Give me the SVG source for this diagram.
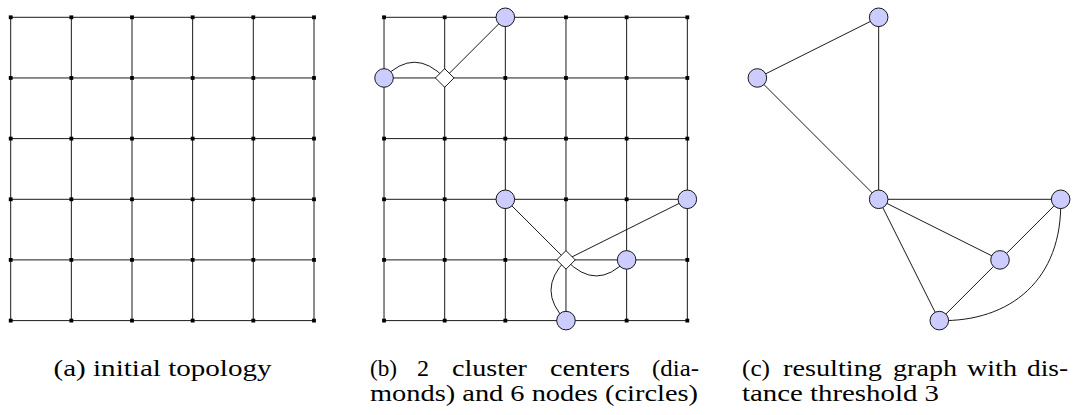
<svg xmlns="http://www.w3.org/2000/svg" width="1078" height="415" viewBox="0 0 1078 415">
<style>
.grid{stroke:#000;stroke-width:0.9;fill:none}
.edge{stroke:#000;stroke-width:0.9;fill:none}
.pt{fill:#000}
.node{fill:#ccccff;stroke:#000;stroke-width:0.9}
.center{fill:#fff;stroke:#000;stroke-width:0.9}
.cap text{font-family:"Liberation Serif","DejaVu Serif","Noto Serif",serif;font-size:23px;fill:#000}
</style>
<defs>
<rect id="pt" x="-1.9" y="-1.9" width="3.8" height="3.8"/>
<circle id="c" r="9.3"/>
<path id="d" d="M0,-9.3 L9.3,0 L0,9.3 L-9.3,0 Z"/>
</defs>
<rect width="1078" height="415" fill="#fff"/>

<g id="connectors">
  <g id="grid-a" class="grid">
    <path d="M10.7,17.3H314M10.7,77.96H314M10.7,138.6H314M10.7,199.3H314M10.7,259.9H314M10.7,320.6H314"/>
    <path d="M10.7,17.3V320.6M71.35,17.3V320.6M132,17.3V320.6M192.65,17.3V320.6M253.3,17.3V320.6M314,17.3V320.6"/>
  </g>
  <g id="grid-b" class="grid">
    <path d="M384.03,17.3H687.33M384.03,77.96H687.33M384.03,138.6H687.33M384.03,199.3H687.33M384.03,259.9H687.33M384.03,320.6H687.33"/>
    <path d="M384.03,17.3V320.6M444.68,17.3V320.6M505.33,17.3V320.6M565.98,17.3V320.6M626.63,17.3V320.6M687.33,17.3V320.6"/>
  </g>
  <g id="edges-b" class="edge">
    <path d="M384.03,77.96 Q414.35,46.5 444.68,77.96"/>
    <path d="M444.68,77.96 L505.33,17.3"/>
    <path d="M565.98,259.9 L505.33,199.3"/>
    <path d="M565.98,259.9 L687.33,199.3"/>
    <path d="M565.98,259.9 Q596.3,292 626.63,259.9"/>
    <path d="M565.98,259.9 Q536,290.25 565.98,320.6"/>
  </g>
  <g id="edges-c" class="edge">
    <path d="M878.66,17.3 L757.36,77.96"/>
    <path d="M878.66,17.3 L878.66,199.3"/>
    <path d="M757.36,77.96 L878.66,199.3"/>
    <path d="M878.66,199.3 L1060.66,199.3"/>
    <path d="M878.66,199.3 L1000,259.9"/>
    <path d="M878.66,199.3 L939.3,320.6"/>
    <path d="M1060.66,199.3 L1000,259.9"/>
    <path d="M1000,259.9 L939.3,320.6"/>
    <path d="M939.3,320.6 C1010,322 1063,280 1060.66,199.3"/>
  </g>
</g>

<g id="points-a" class="pt">
  <use href="#pt" x="10.7" y="17.3"/><use href="#pt" x="71.35" y="17.3"/><use href="#pt" x="132" y="17.3"/><use href="#pt" x="192.65" y="17.3"/><use href="#pt" x="253.3" y="17.3"/><use href="#pt" x="314" y="17.3"/>
  <use href="#pt" x="10.7" y="77.96"/><use href="#pt" x="71.35" y="77.96"/><use href="#pt" x="132" y="77.96"/><use href="#pt" x="192.65" y="77.96"/><use href="#pt" x="253.3" y="77.96"/><use href="#pt" x="314" y="77.96"/>
  <use href="#pt" x="10.7" y="138.6"/><use href="#pt" x="71.35" y="138.6"/><use href="#pt" x="132" y="138.6"/><use href="#pt" x="192.65" y="138.6"/><use href="#pt" x="253.3" y="138.6"/><use href="#pt" x="314" y="138.6"/>
  <use href="#pt" x="10.7" y="199.3"/><use href="#pt" x="71.35" y="199.3"/><use href="#pt" x="132" y="199.3"/><use href="#pt" x="192.65" y="199.3"/><use href="#pt" x="253.3" y="199.3"/><use href="#pt" x="314" y="199.3"/>
  <use href="#pt" x="10.7" y="259.9"/><use href="#pt" x="71.35" y="259.9"/><use href="#pt" x="132" y="259.9"/><use href="#pt" x="192.65" y="259.9"/><use href="#pt" x="253.3" y="259.9"/><use href="#pt" x="314" y="259.9"/>
  <use href="#pt" x="10.7" y="320.6"/><use href="#pt" x="71.35" y="320.6"/><use href="#pt" x="132" y="320.6"/><use href="#pt" x="192.65" y="320.6"/><use href="#pt" x="253.3" y="320.6"/><use href="#pt" x="314" y="320.6"/>
</g>

<g id="points-b" class="pt">
  <use href="#pt" x="384.03" y="17.3"/><use href="#pt" x="444.68" y="17.3"/><use href="#pt" x="565.98" y="17.3"/><use href="#pt" x="626.63" y="17.3"/><use href="#pt" x="687.33" y="17.3"/>
  <use href="#pt" x="505.33" y="77.96"/><use href="#pt" x="565.98" y="77.96"/><use href="#pt" x="626.63" y="77.96"/><use href="#pt" x="687.33" y="77.96"/>
  <use href="#pt" x="384.03" y="138.6"/><use href="#pt" x="444.68" y="138.6"/><use href="#pt" x="505.33" y="138.6"/><use href="#pt" x="565.98" y="138.6"/><use href="#pt" x="626.63" y="138.6"/><use href="#pt" x="687.33" y="138.6"/>
  <use href="#pt" x="384.03" y="199.3"/><use href="#pt" x="444.68" y="199.3"/><use href="#pt" x="565.98" y="199.3"/><use href="#pt" x="626.63" y="199.3"/>
  <use href="#pt" x="384.03" y="259.9"/><use href="#pt" x="444.68" y="259.9"/><use href="#pt" x="505.33" y="259.9"/><use href="#pt" x="687.33" y="259.9"/>
  <use href="#pt" x="384.03" y="320.6"/><use href="#pt" x="444.68" y="320.6"/><use href="#pt" x="505.33" y="320.6"/><use href="#pt" x="626.63" y="320.6"/><use href="#pt" x="687.33" y="320.6"/>
</g>

<g id="b-center-1" class="center"><use href="#d" x="444.68" y="77.96"/></g>
<g id="b-center-2" class="center"><use href="#d" x="565.98" y="259.9"/></g>
<g id="b-node-1" class="node"><use href="#c" x="505.33" y="17.3"/></g>
<g id="b-node-2" class="node"><use href="#c" x="384.03" y="77.96"/></g>
<g id="b-node-3" class="node"><use href="#c" x="505.33" y="199.3"/></g>
<g id="b-node-4" class="node"><use href="#c" x="687.33" y="199.3"/></g>
<g id="b-node-5" class="node"><use href="#c" x="626.63" y="259.9"/></g>
<g id="b-node-6" class="node"><use href="#c" x="565.98" y="320.6"/></g>

<g id="c-node-1" class="node"><use href="#c" x="878.66" y="17.3"/></g>
<g id="c-node-2" class="node"><use href="#c" x="757.36" y="77.96"/></g>
<g id="c-node-3" class="node"><use href="#c" x="878.66" y="199.3"/></g>
<g id="c-node-4" class="node"><use href="#c" x="1060.66" y="199.3"/></g>
<g id="c-node-5" class="node"><use href="#c" x="1000" y="259.9"/></g>
<g id="c-node-6" class="node"><use href="#c" x="939.3" y="320.6"/></g>

<g id="captions" class="cap">
  <text x="53.5" y="376" textLength="218" lengthAdjust="spacingAndGlyphs">(a) initial topology</text>
  <text x="370" y="376" textLength="27" lengthAdjust="spacingAndGlyphs">(b)</text>
  <text x="417" y="376" textLength="12" lengthAdjust="spacingAndGlyphs">2</text>
  <text x="452" y="376" textLength="75" lengthAdjust="spacingAndGlyphs">cluster</text>
  <text x="550" y="376" textLength="80" lengthAdjust="spacingAndGlyphs">centers</text>
  <text x="652" y="376" textLength="47" lengthAdjust="spacingAndGlyphs">(dia-</text>
  <text x="370" y="401" textLength="328" lengthAdjust="spacingAndGlyphs">monds) and 6 nodes (circles)</text>
  <text x="742" y="376" textLength="28" lengthAdjust="spacingAndGlyphs">(c)</text>
  <text x="783" y="376" textLength="99" lengthAdjust="spacingAndGlyphs">resulting</text>
  <text x="893" y="376" textLength="64" lengthAdjust="spacingAndGlyphs">graph</text>
  <text x="967" y="376" textLength="50" lengthAdjust="spacingAndGlyphs">with</text>
  <text x="1027" y="376" textLength="41" lengthAdjust="spacingAndGlyphs">dis-</text>
  <text x="742" y="401" textLength="197" lengthAdjust="spacingAndGlyphs">tance threshold 3</text>
</g>
</svg>
